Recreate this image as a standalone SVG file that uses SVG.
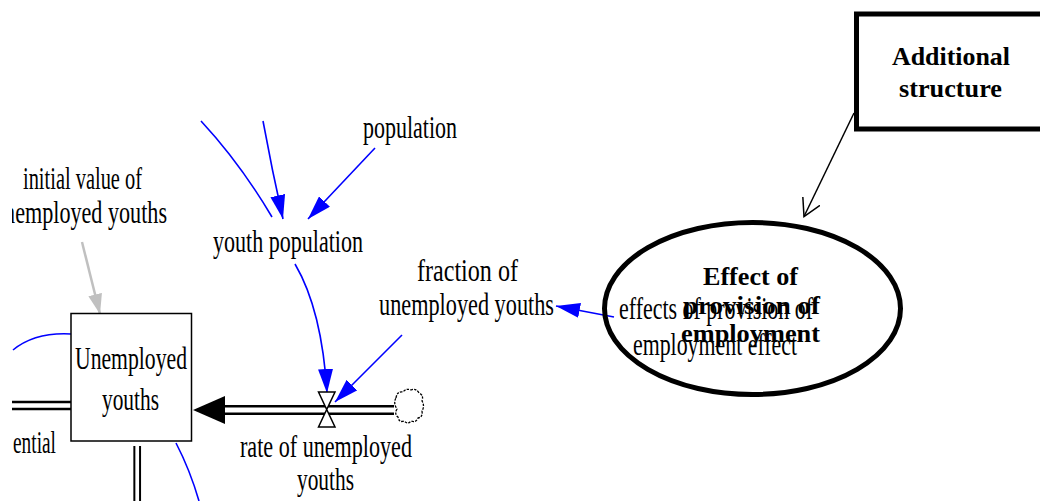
<svg xmlns="http://www.w3.org/2000/svg" width="1040" height="501" viewBox="0 0 1040 501">
<style>
.t{font-family:"Liberation Serif","Times New Roman",serif;font-size:31px;fill:#000}
.b{font-family:"Liberation Serif","Times New Roman",serif;font-size:26px;font-weight:bold;fill:#000}
.blue{fill:none;stroke:#0000ff;stroke-width:1.6}
.pipeO{stroke:#000;fill:none}
.pipeI{stroke:#fff;fill:none}
</style>
<defs>
<clipPath id="clip"><rect x="12" y="0" width="1028" height="501"/></clipPath>
<marker id="ab" viewBox="0 0 24 15" markerWidth="24" markerHeight="15" refX="24" refY="7.5" orient="auto" markerUnits="userSpaceOnUse"><path d="M0,0 L24,7.5 L0,15 Z" fill="#0000ff"/></marker>
<marker id="ag" viewBox="0 0 20 14" markerWidth="20" markerHeight="14" refX="20" refY="7" orient="auto" markerUnits="userSpaceOnUse"><path d="M0,0 L20,7 L0,14 Z" fill="#c0c0c0"/></marker>
<marker id="ao" viewBox="0 0 20 20" markerWidth="20" markerHeight="20" refX="17" refY="10" orient="auto" markerUnits="userSpaceOnUse"><path d="M0,0.5 L17,10 L0,19.5" fill="none" stroke="#000" stroke-width="1.5"/></marker>
</defs>
<rect width="1040" height="501" fill="#fff"/>
<g clip-path="url(#clip)">
<g id="connectors">
<path class="blue" d="M201,121 Q240,163 272,217"/>
<path class="blue" d="M263,121 Q272,170 283,219" marker-end="url(#ab)"/>
<path class="blue" d="M375,148 L308,219" marker-end="url(#ab)"/>
<path class="blue" d="M295,264 Q322,310 327,393" marker-end="url(#ab)"/>
<path class="blue" d="M402,335 L335,402" marker-end="url(#ab)"/>
<path class="blue" d="M614,317 L556,306" marker-end="url(#ab)"/>
<path class="blue" d="M13,350 Q35,332 71,334"/>
<path class="blue" d="M176,443 Q190,470 199,501"/>
<path d="M82,242 L100,314" fill="none" stroke="#c0c0c0" stroke-width="2.5" marker-end="url(#ag)"/>
<path class="pipeO" stroke-width="10" d="M225,410 L394,410"/>
<path class="pipeI" stroke-width="5" d="M222,410 L396,410"/>
<polygon points="193,410 225,396 225,424" fill="#000"/>
<path class="pipeO" stroke-width="9.5" d="M0,405.5 L71,405.5"/>
<path class="pipeI" stroke-width="4.5" d="M0,405.5 L71,405.5"/>
<path class="pipeO" stroke-width="7.7" d="M137.2,446 L137.2,501"/>
<path class="pipeI" stroke-width="3.7" d="M137.2,446 L137.2,502"/>
</g>
<g id="valve">
<path d="M318.5,392 L335,392 L326.7,409.5 Z M326.7,409.5 L318.5,427 L335,427 Z" fill="#fff" stroke="#000" stroke-width="1.5"/>
</g>
<g id="cloud">
<path d="M396,398 q1,-7 7,-6 q3,-4 8,-2 q5,-2 8,3 q5,2 3,8 q3,5 0,10 q1,6 -4,7 q-2,5 -7,3 q-3,4 -7,0 q-5,2 -6,-4 q-4,-3 -1,-8 q-4,-6 -1,-11 z" fill="#fff" stroke="#000" stroke-width="1.3" stroke-dasharray="2.5,1.2"/>
</g>
<g id="stock">
<rect x="71" y="313.5" width="120.5" height="127.5" fill="#fff" stroke="#000" stroke-width="1.5"/>
<text class="t" x="75" y="369" textLength="112" lengthAdjust="spacingAndGlyphs">Unemployed</text>
<text class="t" x="102" y="410" textLength="57" lengthAdjust="spacingAndGlyphs">youths</text>
</g>
<g id="population"><text class="t" x="363" y="138" textLength="94" lengthAdjust="spacingAndGlyphs">population</text></g>
<g id="youth-population"><text class="t" x="213" y="252" textLength="150" lengthAdjust="spacingAndGlyphs">youth population</text></g>
<g id="initial-value">
<text class="t" x="23" y="189" textLength="119" lengthAdjust="spacingAndGlyphs">initial value of</text>
<text class="t" x="-7" y="223" textLength="174" lengthAdjust="spacingAndGlyphs">unemployed youths</text>
</g>
<g id="fraction">
<text class="t" x="417" y="281" textLength="101" lengthAdjust="spacingAndGlyphs">fraction of</text>
<text class="t" x="379" y="315" textLength="175" lengthAdjust="spacingAndGlyphs">unemployed youths</text>
</g>
<g id="rate">
<text class="t" x="240" y="457" textLength="172" lengthAdjust="spacingAndGlyphs">rate of unemployed</text>
<text class="t" x="297" y="490" textLength="57" lengthAdjust="spacingAndGlyphs">youths</text>
</g>
<g id="ential"><text class="t" x="13" y="453" textLength="43" lengthAdjust="spacingAndGlyphs">ential</text></g>
<g id="effects">
<text class="t" x="619" y="319" textLength="194" lengthAdjust="spacingAndGlyphs">effects of provision of</text>
<text class="t" x="633" y="355" textLength="164" lengthAdjust="spacingAndGlyphs">employment effect</text>
</g>
</g>
<g id="annotation-arrow">
<path d="M854,113 L804,216.5" fill="none" stroke="#000" stroke-width="1.5" marker-end="url(#ao)"/>
</g>
<g id="effect-ellipse">
<ellipse cx="752.5" cy="308.5" rx="148" ry="86" fill="none" stroke="#000" stroke-width="5"/>
<text class="b" x="703" y="285" textLength="95" lengthAdjust="spacingAndGlyphs">Effect of</text>
<text class="b" x="683" y="314" textLength="137" lengthAdjust="spacingAndGlyphs">provision of</text>
<text class="b" x="681" y="342" textLength="139" lengthAdjust="spacingAndGlyphs">employment</text>
</g>
<g id="additional-structure">
<rect x="856.5" y="14" width="200" height="115" fill="#fff" stroke="#000" stroke-width="5"/>
<text class="b" x="892" y="65" textLength="118" lengthAdjust="spacingAndGlyphs">Additional</text>
<text class="b" x="899" y="97" textLength="103" lengthAdjust="spacingAndGlyphs">structure</text>
</g>
</svg>
